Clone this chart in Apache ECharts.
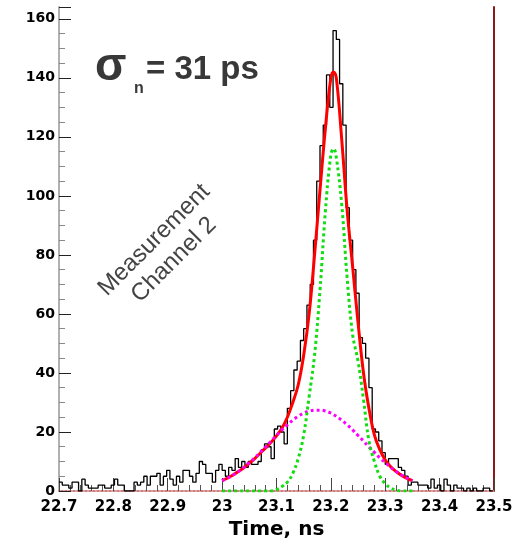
<!DOCTYPE html>
<html><head><meta charset="utf-8">
<script src="https://cdn.jsdelivr.net/npm/echarts@6/dist/echarts.min.js"></script>
<style>html,body{margin:0;padding:0;background:#fff}#c{width:523px;height:538px}</style>
</head><body><div id="c"></div>
<script>
// Histogram: bin layout and counts
const binStart = 22.7;
const binWidth = 0.006;
const counts = [3,2,2,1,3,3,0,4,2,1,1,1,2,2,1,1,2,4,2,2,0,0,0,3,2,3,5,2,5,5,6,2,5,7,4,2,5,3,7,7,5,3,6,10,9,6,6,3,7,9,7,5,8,7,11,8,10,8,10,9,9,10,
14,16,15,11,21,22,20,16,28,34,41,44,51,55,63,70,85,105,117,124,141,130,156,153,138,124,96,85,75,67,52,50,45,35,21,20,17,13,9,11,11,11,8,7,5,2,3,3,2,2,2,1,4,1,2,0,4,2,0,2,1,1,0,1,0,1,0,0,1,1,0];

// Fit curves
const fitT = [23.00,23.01,23.02,23.03,23.04,23.05,23.06,23.07,23.08,23.09,23.10,23.11,23.12,23.13,23.14,23.15,23.16,23.17,23.18,23.19,23.20,23.205,23.21,23.22,23.23,23.24,23.25,23.26,23.27,23.28,23.29,23.30,23.31,23.32,23.33,23.34,23.35];
const totalFit = [3.5,4.4,5.4,6.6,7.9,9.4,11.0,12.8,14.6,16.5,18.7,21.3,25,30,36,46,60,80,102,123,140,142,140,119,95,76,57,40,28,19,14,10.5,8.2,6.6,5.3,4.3,3.5];
const narrowFit = [0,0,0,0,0,0,0,0,0,0,0.5,1.5,3,6,11,19,32,46,68,95,114,116,113,97,72,53,44,31,17,10,5,2.5,1,0.3,0,0,0];
const wideFit = [3.5,4.4,5.4,6.6,8.0,9.6,11.2,13.1,14.9,16.9,18.8,20.7,22.4,24.0,25.3,26.4,27.1,27.4,27.4,27.1,26.4,25.9,25.3,24.0,22.4,20.7,18.8,16.9,14.9,13.1,11.2,9.6,8.0,6.6,5.4,4.4,3.5];

// Axis settings
const xMin = 22.7, xMax = 23.5, xStep = 0.1;
const yMin = 0, yMax = 164, yStep = 20;
const xTitle = 'Time, ns';
const noteText = 'Measurement\nChannel 2';

const histData = counts.map((c, i) => [+(binStart + i * binWidth).toFixed(4), c]);
histData.push([+(binStart + counts.length * binWidth).toFixed(4), counts[counts.length - 1]]);
const zip = (a) => fitT.map((t, i) => [t, a[i]]);

const chart = echarts.init(document.getElementById('c'), null, {renderer: 'canvas', width: 523, height: 538});
const tickFont = {fontFamily: 'DejaVu Sans', fontWeight: 'bold', color: '#000'};
chart.setOption({
  animation: false,
  backgroundColor: '#fff',
  grid: {left: 59, right: 29, top: 7, bottom: 47, containLabel: false, outerBoundsMode: 'none'},
  xAxis: [{
    type: 'value', min: xMin, max: xMax, interval: xStep, position: 'bottom',
    axisLine: {show: true, onZero: false, lineStyle: {color: '#e84444', width: 2}},
    axisTick: {show: true, inside: true, length: 13, lineStyle: {color: '#444', width: 1}},
    minorTick: {show: true, splitNumber: 5, length: 6, lineStyle: {color: '#555', width: 1}},
    splitLine: {show: false},
    axisLabel: Object.assign({fontSize: 15, margin: 9, formatter: v => String(+(+v).toFixed(1))}, tickFont),
    name: xTitle, nameLocation: 'middle', nameGap: 25,
    nameTextStyle: {fontFamily: 'DejaVu Sans', fontWeight: 'bold', fontSize: 20, color: '#000'}
  }, {
    type: 'value', min: xMin, max: xMax, position: 'top',
    axisLine: {show: true, lineStyle: {color: '#c8c8c8', width: 1.5, type: [2, 2]}},
    axisTick: {show: false}, axisLabel: {show: false}, splitLine: {show: false}
  }],
  yAxis: [{
    type: 'value', min: yMin, max: yMax, interval: yStep,
    axisLine: {show: true, lineStyle: {color: '#b0b0b0', width: 2}},
    axisTick: {show: true, inside: true, length: 12, lineStyle: {color: '#222', width: 1}},
    minorTick: {show: true, splitNumber: 4, length: 6, lineStyle: {color: '#888', width: 1}},
    splitLine: {show: false},
    axisLabel: Object.assign({fontSize: 14, margin: 4, showMaxLabel: false}, tickFont)
  }, {
    type: 'value', min: yMin, max: yMax, position: 'right',
    axisLine: {show: true, lineStyle: {color: '#8b1a1a', width: 2}},
    axisTick: {show: false}, axisLabel: {show: false}, splitLine: {show: false}
  }],
  series: [{
    type: 'line', data: histData, step: 'end', symbol: 'none', z: 2,
    lineStyle: {color: '#000', width: 1.3}
  }, {
    type: 'line', data: zip(totalFit), smooth: 0.4, symbol: 'none', z: 3,
    lineStyle: {color: '#ff0000', width: 3}
  }, {
    type: 'line', data: zip(wideFit), smooth: 0.4, symbol: 'none', z: 4,
    lineStyle: {color: '#ff00ff', width: 3, type: [3, 3]}
  }, {
    type: 'line', data: zip(narrowFit), smooth: 0.4, symbol: 'none', z: 5,
    lineStyle: {color: '#11dd11', width: 3, type: [3, 3]}
  }],
  graphic: [
    {type: 'text', x: 95, y: 67, z: 10, style: {text: 'σ', font: 'bold 46px "Liberation Sans"', fill: '#383838', align: 'left', verticalAlign: 'middle', textAlign: 'left', textVerticalAlign: 'middle'}},
    {type: 'text', x: 134, y: 89, z: 10, style: {text: 'n', font: 'bold 16px "Liberation Sans"', fill: '#383838', align: 'left', verticalAlign: 'middle', textAlign: 'left', textVerticalAlign: 'middle'}},
    {type: 'text', x: 146, y: 70, z: 10, style: {text: '= 31 ps', font: 'bold 33px "Liberation Sans"', fill: '#383838', align: 'left', verticalAlign: 'middle', textAlign: 'left', textVerticalAlign: 'middle'}},
    {type: 'text', x: 164, y: 250, rotation: Math.PI / 4, z: 10, style: {text: noteText, font: '24px "Liberation Sans"', lineHeight: 28, fill: '#444', align: 'center', verticalAlign: 'middle', textAlign: 'center', textVerticalAlign: 'middle'}}
  ]
});
</script></body></html>
